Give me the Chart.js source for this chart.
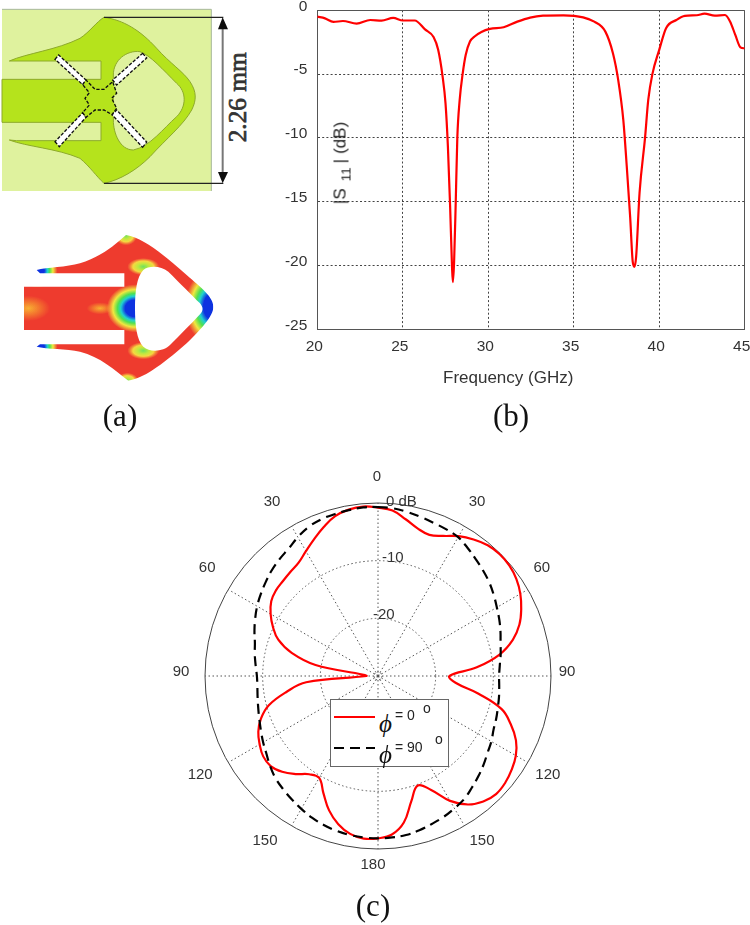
<!DOCTYPE html>
<html>
<head>
<meta charset="utf-8">
<script src="https://cdn.jsdelivr.net/npm/chart.js@4/dist/chart.umd.min.js"></script>
<style>
html,body{margin:0;padding:0;background:#fff;width:750px;height:925px;overflow:hidden}
canvas{position:absolute}
.t{position:absolute;white-space:nowrap;line-height:1}
.cap{font-family:"Liberation Serif",serif;font-size:31px;color:#111;transform:translate(-50%,-50%)}
.sans{font-family:"Liberation Sans",sans-serif;color:#333}
svg{position:absolute}
#legend{position:absolute;left:330px;top:699px;width:117px;height:66px;background:#fff;border:1px solid #666;box-sizing:content-box}
.phi{font-family:"Liberation Serif",serif;font-style:italic;font-size:25px;color:#111}
</style>
</head>
<body>
<svg style="left:0;top:0" width="290" height="200" viewBox="0 0 870 600">
  <defs><filter id="soft"><feGaussianBlur stdDeviation="1.2"/></filter></defs>
  <g filter="url(#soft)">
    <rect x="6" y="28" width="628" height="545" fill="#DFF29E"/>
    <path d="M6,28H634V573" fill="none" stroke="#a8b89a" stroke-width="3"/>
    <path d="M28,183 C80,160 170,150 240,115 C270,95 290,65 312,52 C370,60 420,90 470,145 C510,190 550,215 570,245 C590,275 590,300 575,330 C550,375 500,415 450,470 C410,510 360,540 312,550 C290,530 270,500 240,475 C170,445 80,440 28,420 L50,422 L303,422 L303,367 L6,367 L6,238 L303,238 L303,183 Z" fill="#B5E31F" stroke="#8DAA2A" stroke-width="3"/>
    <path d="M340,225 C340,180 380,150 420,155 C450,165 490,210 530,250 C560,275 560,320 530,350 C490,385 450,440 400,450 C360,450 340,400 340,360 Z" fill="#DFF29E" stroke="#8DAA2A" stroke-width="3"/>
    <g fill="#fff" stroke="#111" stroke-width="4" stroke-dasharray="10 5">
      <polygon points="165,178 176,165 258,240 248,254"/>
      <polygon points="428,160 440,174 350,255 338,240"/>
      <polygon points="428,442 440,426 350,330 336,344"/>
      <polygon points="165,425 178,440 258,352 248,338"/>
    </g>
    <path d="M248,254 L258,240 L285,268 L312,268 L338,245 L350,280 L335,295 L350,325 L336,344 L312,330 L285,330 L258,352 L248,338 L268,315 L255,295 L268,278 Z" fill="#B5E31F" stroke="#111" stroke-width="4" stroke-dasharray="10 5"/>
    <path d="M312,52H670M312,550H670" stroke="#222" stroke-width="4" fill="none"/>
    <path d="M668,70V530" stroke="#777" stroke-width="6" fill="none"/>
    <path d="M668,52L654,88H684Z M668,550L654,516H684Z" fill="#111"/>
  </g>
  <text transform="translate(737,292) rotate(-90)" text-anchor="middle" font-family="Liberation Serif" font-size="76" fill="#333" stroke="#333" stroke-width="2">2.26 mm</text>
</svg>

<svg style="left:0;top:220px" width="240" height="190" viewBox="0 0 720 570">
  <defs>
    <filter id="soft2"><feGaussianBlur stdDeviation="2"/></filter>
    <clipPath id="patch"><path clip-rule="evenodd" d="M110,150 C140,142 200,142 240,130 C290,115 335,85 378,45 C430,55 480,95 560,165 C600,200 640,230 640,260 C640,290 600,330 560,370 C480,440 430,475 385,482 C345,450 300,410 240,395 C200,385 140,388 110,380 L120,373 L373,373 L373,330 L72,330 L72,200 L373,200 L373,160 L120,160 Z M405,265 C405,215 410,170 430,150 C445,138 480,135 505,155 C540,190 575,225 600,250 C610,262 610,272 600,283 C570,315 540,345 510,375 C490,395 450,398 430,380 C410,360 405,315 405,265 Z"/></clipPath>
    <radialGradient id="rb"><stop offset="0" stop-color="#1030e0"/><stop offset=".35" stop-color="#1030e0"/><stop offset=".5" stop-color="#20d0d0"/><stop offset=".62" stop-color="#50e050"/><stop offset=".78" stop-color="#f0e840"/><stop offset="1" stop-color="#f0e840" stop-opacity="0"/></radialGradient>
    <radialGradient id="gy"><stop offset="0" stop-color="#70e060"/><stop offset=".35" stop-color="#c0e840"/><stop offset=".65" stop-color="#f5d840"/><stop offset="1" stop-color="#f5b040" stop-opacity="0"/></radialGradient>
    <radialGradient id="or"><stop offset="0" stop-color="#f8b030"/><stop offset="1" stop-color="#f8b030" stop-opacity="0"/></radialGradient>
  </defs>
  <g clip-path="url(#patch)">
    <g filter="url(#soft2)">
    <rect x="0" y="0" width="720" height="570" fill="#EE3B2E"/>
    <ellipse cx="405" cy="265" rx="85" ry="72" fill="url(#rb)"/>
    <ellipse cx="640" cy="260" rx="85" ry="115" fill="url(#rb)"/>
    <ellipse cx="430" cy="140" rx="48" ry="26" fill="url(#gy)"/>
    <ellipse cx="430" cy="392" rx="48" ry="26" fill="url(#gy)"/>
    <ellipse cx="378" cy="46" rx="34" ry="30" fill="url(#gy)"/>
    <ellipse cx="382" cy="484" rx="34" ry="26" fill="url(#gy)"/>
    <ellipse cx="112" cy="152" rx="60" ry="50" fill="url(#rb)"/>
    <ellipse cx="112" cy="380" rx="60" ry="50" fill="url(#rb)"/>
    <ellipse cx="85" cy="265" rx="65" ry="38" fill="url(#or)"/>
    <ellipse cx="300" cy="265" rx="40" ry="18" fill="url(#or)"/>
    </g>
  </g>
</svg>

<canvas id="s11Chart" width="480" height="400" style="left:270px;top:0"></canvas>
<canvas id="polarChart" width="500" height="500" style="left:128px;top:426px"></canvas>

<div class="t sans" style="font-size:17px;left:443px;top:369px">Frequency (GHz)</div>
<div class="t sans" style="font-size:17px;color:#222;left:340px;top:162.5px;transform:translate(-50%,-50%) rotate(-90deg)">|S<span style="position:relative;top:5px;font-size:13.5px;margin:0 4px 0 7px">11</span>|<span style="margin-left:5px">(dB)</span></div>

<div id="legend">
  <svg style="left:3px;top:0" width="44" height="66">
    <line x1="0" x2="41" y1="17" y2="17" stroke="#f00" stroke-width="2.2"/>
    <line x1="0" x2="41" y1="48" y2="48" stroke="#000" stroke-width="2.2" stroke-dasharray="10 6"/>
  </svg>
  <div class="t phi" style="left:48px;top:11px">ϕ</div>
  <div class="t sans" style="font-size:14px;left:64px;top:8px;color:#222">= 0</div>
  <div class="t sans" style="font-size:14px;left:92px;top:1px;color:#222">o</div>
  <div class="t phi" style="left:48px;top:42px">ϕ</div>
  <div class="t sans" style="font-size:14px;left:64px;top:40px;color:#222">= 90</div>
  <div class="t sans" style="font-size:14px;left:104px;top:32px;color:#222">o</div>
</div>

<div class="t cap" style="left:120px;top:415px">(a)</div>
<div class="t cap" style="left:511px;top:415px">(b)</div>
<div class="t cap" style="left:373px;top:905px">(c)</div>

<script>
const FREQ_GHZ = [20,20.45,20.94,21.5,22.3,23.1,23.76,24.44,25,25.7,26.3,26.8,27.07,27.33,27.5,27.64,27.77,27.88,27.93,28,28.1,28.19,28.33,28.5,28.68,28.93,29.2,29.6,30.1,30.9,31.7,32.45,33.2,34.4,35.55,36.2,36.85,37.3,37.6,37.9,38.1,38.3,38.45,38.55,38.65,38.85,39.17,39.36,39.6,40,40.4,41,41.5,42.2,42.65,43.25,43.85,44.15,44.45,44.75,45];
const S11_DB = [-0.5,-0.63,-0.91,-0.84,-1.04,-0.76,-0.81,-0.6,-0.8,-0.8,-1.5,-2.1,-3.1,-5.2,-7.3,-10.7,-15.4,-20.1,-21.3,-19.8,-14.9,-10,-7,-5,-3.5,-2.45,-2.05,-1.7,-1.46,-1.33,-0.89,-0.57,-0.42,-0.39,-0.55,-0.89,-1.67,-3.4,-5.45,-8.6,-12.2,-16.2,-19.7,-20.1,-19.3,-14.3,-10,-7,-5,-3.1,-1.4,-0.76,-0.44,-0.39,-0.26,-0.42,-0.37,-0.89,-1.93,-2.9,-2.98];
const FREQ_TICKS = [20,25,30,35,40,45];
const S11_TICKS = [0,-5,-10,-15,-20,-25];

const ANGLE_DEG = [0,5,10,15,20,25,30,35,40,45,50,55,60,65,70,75,80,85,90,95,100,105,110,115,120,125,130,135,140,145,150,155,160,165,170,175,180,185,190,195,200,205,210,215,220,225,230,235,240,245,250,255,260,265,270,275,280,285,290,295,300,305,310,315,320,325,330,335,340,345,350,355];
const PHI_0 = [-0.8,-1.2,-2.4,-3.5,-3.95,-3.2,-2,-1.1,-0.4,-0.15,-0.25,-0.7,-1.5,-2.6,-3.9,-5.8,-8.6,-12.8,-17.6,-16.5,-12.3,-7.8,-5.5,-3.6,-2.4,-1.7,-1.2,-1.05,-1.6,-2.8,-5,-8.2,-9.8,-7.6,-4.2,-2.4,-1.85,-1.7,-2.2,-3.4,-5.2,-7.6,-9.6,-9.2,-7.8,-6.5,-5.7,-5.7,-6.3,-7.1,-8.4,-10.4,-13.8,-17.5,-28,-27.5,-19,-14.5,-11.6,-9.9,-8.5,-7.4,-6.9,-6.7,-6.4,-6,-5,-3.8,-2.5,-1.3,-0.7,-0.5];
const PHI_90 = [-0.7,-0.8,-1.1,-1.45,-1.75,-1.95,-2.2,-2.9,-3.6,-4.2,-4.8,-5.5,-6.2,-6.8,-7.4,-8,-8.4,-8.8,-9,-8.9,-8.7,-8.5,-8.2,-7.9,-7.3,-6.8,-6.1,-5.4,-4.7,-3.95,-3.5,-3.05,-2.7,-2.3,-2,-1.9,-1.85,-1.9,-2,-2.2,-2.5,-2.9,-3.4,-3.9,-4.4,-4.9,-5.6,-6.4,-7,-7.6,-8.1,-8.5,-8.8,-9,-9,-8.7,-8.3,-7.9,-7.2,-6.5,-5.8,-5.2,-4.6,-4,-3.5,-3,-2.2,-1.5,-1.1,-0.95,-0.8,-0.65];
const ANGLE_TICKS = [0,30,60,90,120,150,180,210,240,270,300,330];
const ANGLE_TICK_LABELS = ['0','30','60','90','120','150','180','150','120','90','60','30'];
const RADIAL_TICKS = [0,-10,-20];
const RADIAL_TICK_LABELS = ['0 dB','-10','-20'];

const TICK_COLOR = '#333';
const SANS = '"Liberation Sans", Arial, sans-serif';
Chart.defaults.animation = false;
Chart.defaults.responsive = false;
Chart.defaults.font.family = SANS;

const isEdge = v => v === 0 || v === -25 || v === 20 || v === 45;
const gridOpts = {
  color: c => isEdge(c.tick.value) ? '#555' : '#444',
  lineWidth: 1,
  drawTicks: false
};
const borderOpts = {
  display: true, color: '#555',
  dash: c => (c.tick && isEdge(c.tick.value)) ? [] : [2, 2.2]
};

new Chart(document.getElementById('s11Chart'), {
  type: 'line',
  data: { datasets: [{
    data: FREQ_GHZ.map((f, i) => ({ x: f, y: S11_DB[i] })),
    borderColor: '#f00', borderWidth: 2.2, pointRadius: 0,
    cubicInterpolationMode: 'monotone'
  }]},
  options: {
    layout: { padding: { top: 10.3, right: 5.3, left: 0, bottom: 0 } },
    plugins: { legend: { display: false }, tooltip: { enabled: false } },
    scales: {
      x: {
        type: 'linear', min: 20, max: 45,
        afterBuildTicks: s => { s.ticks = FREQ_TICKS.map(v => ({ value: v })); },
        afterFit: s => { s.height = 70.7; s.paddingLeft = 0; s.paddingRight = 0; },
        grid: gridOpts, border: borderOpts,
        ticks: { color: TICK_COLOR, font: { size: 15.5 }, padding: 8, maxRotation: 0, labelOffset: -3 }
      },
      y: {
        type: 'linear', min: -25, max: 0,
        afterBuildTicks: s => { s.ticks = S11_TICKS.map(v => ({ value: v })); },
        afterFit: s => { s.width = 47.3; s.paddingTop = 0; s.paddingBottom = 0; },
        grid: gridOpts, border: borderOpts,
        ticks: { color: TICK_COLOR, font: { size: 15.5 }, padding: 10, labelOffset: -4 }
      }
    }
  }
});

const polarLabels = {
  id: 'polarLabels',
  afterDraw(chart) {
    const { ctx } = chart;
    const s = chart.scales.r;
    const rimOffset = [[-1,-26],[12.5,-24],[14,-21.5],[16,-4],[20,12.5],[17.5,15],[-5,16],[-26.5,15],[-28,12.5],[-24,-4],[-21,-21.5],[-19.5,-24]];
    ctx.save();
    ctx.fillStyle = TICK_COLOR;
    ctx.font = '15px ' + SANS;
    ctx.textAlign = 'center';
    ctx.textBaseline = 'middle';
    ANGLE_TICKS.forEach((a, i) => {
      const p = s.getPointPosition(ANGLE_DEG.indexOf(a), s.drawingArea);
      ctx.fillText(ANGLE_TICK_LABELS[i], p.x + rimOffset[i][0], p.y + rimOffset[i][1]);
    });
    ctx.textAlign = 'left';
    const off = [[8, -1.5], [4, -3], [-5, -3]];
    RADIAL_TICKS.forEach((v, i) => {
      const p = s.getPointPositionForValue(0, v);
      ctx.fillText(RADIAL_TICK_LABELS[i], p.x + off[i][0], p.y + off[i][1]);
    });
    ctx.strokeStyle = '#444';
    ctx.setLineDash([1.5, 2]);
    ctx.beginPath();
    ctx.arc(s.xCenter, s.yCenter, 4, 0, Math.PI * 2);
    ctx.stroke();
    ctx.restore();
  }
};

new Chart(document.getElementById('polarChart'), {
  type: 'radar',
  data: {
    labels: ANGLE_DEG,
    datasets: [
      { data: PHI_90, borderColor: '#000', borderWidth: 2.2, borderDash: [10, 6], pointRadius: 0, fill: false, tension: 0.4 },
      { data: PHI_0, borderColor: '#f00', borderWidth: 2.2, pointRadius: 0, fill: false, tension: 0.4 }
    ]
  },
  options: {
    layout: { padding: 77 },
    plugins: { legend: { display: false }, tooltip: { enabled: false } },
    scales: {
      r: {
        min: -30, max: 0,
        ticks: { display: false, stepSize: 10 },
        pointLabels: { display: false },
        grid: { circular: true, color: c => c.tick.value === 0 ? '#444' : '#555', lineWidth: 1 },
        border: { dash: c => c.tick.value === 0 ? [] : [1.5, 2.5] },
        angleLines: {
          color: c => ANGLE_TICKS.includes(ANGLE_DEG[c.index]) ? '#555' : 'transparent',
          lineWidth: c => ANGLE_TICKS.includes(ANGLE_DEG[c.index]) ? 1 : 0,
          borderDash: [1.5, 2.5]
        }
      }
    }
  },
  plugins: [polarLabels]
});
</script>
</body>
</html>
